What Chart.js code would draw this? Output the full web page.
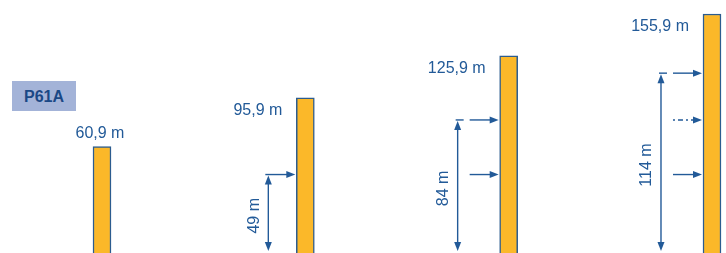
<!DOCTYPE html>
<html lang="en">
<head>
<meta charset="UTF-8">
<title>P61A heights</title>
<script src="https://cdn.jsdelivr.net/npm/chart.js"></script>
<style>
    html, body { margin: 0; padding: 0; background: #fff; }
    .wrap { position: relative; width: 726px; height: 253px; }
    .badge {
        position: absolute; left: 12px; top: 81px; width: 64px; height: 30px;
        background: #a3b3d8; color: #1a4886;
        font: bold 16px "Liberation Sans", Arial, sans-serif;
        line-height: 32px; text-align: center;
    }
</style>
</head>
<body>
<div class="wrap">
    <canvas id="chart" width="726" height="253"></canvas>
    <div class="badge">P61A</div>
</div>
<script>
    // tower data
    const towers = [0, 1, 2, 3];
    const heights = [60.9, 95.9, 125.9, 155.9];
    const heightLabels = ['60,9 m', '95,9 m', '125,9 m', '155,9 m'];
    // platform levels (m)
    const levels = [49, 84, 114];
    const levelLabels = ['49 m', '84 m', '114 m'];

    const blue = '#225a98';

    function arrowHead(ctx, x, y, dir) {
        // dir: 'r', 'u', 'd'
        ctx.beginPath();
        if (dir === 'r') { ctx.moveTo(x, y); ctx.lineTo(x - 9, y - 3.5); ctx.lineTo(x - 9, y + 3.5); }
        if (dir === 'u') { ctx.moveTo(x, y); ctx.lineTo(x - 3.5, y + 9); ctx.lineTo(x + 3.5, y + 9); }
        if (dir === 'd') { ctx.moveTo(x, y); ctx.lineTo(x - 3.5, y - 9); ctx.lineTo(x + 3.5, y - 9); }
        ctx.closePath();
        ctx.fill();
    }

    function seg(ctx, x1, y1, x2, y2, dash) {
        ctx.setLineDash(dash || []);
        ctx.beginPath();
        ctx.moveTo(x1, y1);
        ctx.lineTo(x2, y2);
        ctx.stroke();
        ctx.setLineDash([]);
    }

    const annotations = {
        id: 'annotations',
        afterDatasetsDraw(chart) {
            const ctx = chart.ctx;
            const y2 = chart.scales.y2;
            const bars = chart.getDatasetMeta(0).data;
            ctx.save();
            ctx.fillStyle = blue;
            ctx.strokeStyle = blue;
            ctx.lineWidth = 1.4;
            ctx.font = '16px "Liberation Sans", Arial, sans-serif';

            // height labels
            bars.forEach((bar, i) => {
                const left = bar.x - bar.width / 2;
                ctx.textBaseline = 'middle';
                if (i === 0) {
                    ctx.textAlign = 'center';
                    ctx.fillText(heightLabels[i], bar.x - 2, bar.y - 13);
                } else {
                    ctx.textAlign = 'right';
                    ctx.fillText(heightLabels[i], left - 14, bar.y + 13);
                }
            });

            // platform arrows
            const ground = y2.getPixelForValue(0);
            for (let c = 1; c < bars.length; c++) {
                const left = bars[c].x - bars[c].width / 2;
                const vx = c === 1 ? left - 28 : left - 42;
                const top = y2.getPixelForValue(levels[c - 1]);

                // dimension line
                seg(ctx, vx, top + 4, vx, ground - 4);
                arrowHead(ctx, vx, top + 1, 'u');
                arrowHead(ctx, vx, ground, 'd');

                // horizontal arrows
                for (let j = 0; j < c; j++) {
                    const py = y2.getPixelForValue(levels[j]);
                    const x0 = c === 1 ? left - 31 : left - 30;
                    if (c === 3 && j === 1) {
                        seg(ctx, x0, py, left - 8, py, [2, 3, 5, 3]);
                    } else {
                        seg(ctx, x0, py, left - 8, py);
                    }
                    arrowHead(ctx, left - 1, py, 'r');
                    if (c > 1 && j === c - 1) {
                        seg(ctx, vx - 2, py, vx + 6, py);
                    }
                }

                // dimension text
                ctx.save();
                ctx.translate(vx - 14, (top + ground) / 2 + 3);
                ctx.rotate(-Math.PI / 2);
                ctx.textAlign = 'center';
                ctx.textBaseline = 'middle';
                ctx.fillText(levelLabels[c - 1], 0, 0);
                ctx.restore();
            }
            ctx.restore();
        }
    };

    new Chart(document.getElementById('chart'), {
        type: 'bar',
        data: {
            datasets: [{
                data: towers.map((t, i) => ({ x: t, y: heights[i] })),
                backgroundColor: '#fbb829',
                borderColor: '#2c5c8f',
                borderWidth: 1.5,
                borderSkipped: 'start',
                barThickness: 18,
                base: -30
            }]
        },
        options: {
            responsive: false,
            animation: false,
            layout: { padding: 0 },
            plugins: {
                legend: { display: false },
                tooltip: { enabled: false }
            },
            scales: {
                x: { type: 'linear', display: false, min: -0.5016, max: 3.0689, offset: false },
                y: { display: false, min: -15.2, max: 165.9 },
                y2: { display: false, min: -1.3, max: 160.9 }
            }
        },
        plugins: [annotations]
    });
</script>
</body>
</html>
